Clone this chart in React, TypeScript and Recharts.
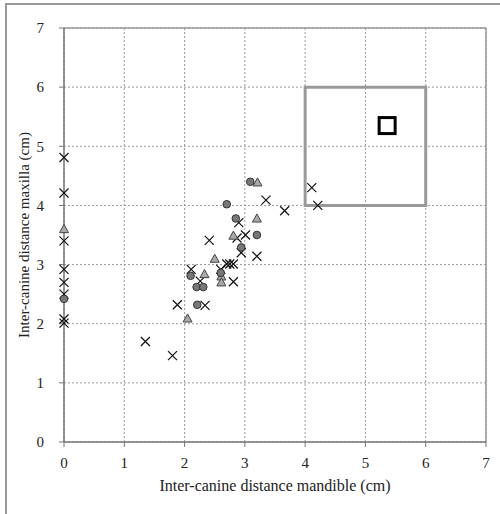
import React from "react";
import {
  ScatterChart,
  Scatter,
  XAxis,
  YAxis,
  CartesianGrid,
  ReferenceArea,
  ReferenceLine,
} from "recharts";

const ticks = [0, 1, 2, 3, 4, 5, 6, 7];

const circlePoints = [
  { x: 0, y: 2.42 },
  { x: 2.1, y: 2.81 },
  { x: 2.2, y: 2.62 },
  { x: 2.31, y: 2.62 },
  { x: 2.21, y: 2.32 },
  { x: 2.6, y: 2.86 },
  { x: 2.7, y: 4.02 },
  { x: 2.85, y: 3.78 },
  { x: 2.94, y: 3.29 },
  { x: 3.09, y: 4.4 },
  { x: 3.2, y: 3.5 },
];

const trianglePoints = [
  { x: 0, y: 3.6 },
  { x: 2.05, y: 2.09 },
  { x: 2.33, y: 2.84 },
  { x: 2.5, y: 3.1 },
  { x: 2.61, y: 2.8 },
  { x: 2.61, y: 2.7 },
  { x: 2.81, y: 3.49 },
  { x: 3.2, y: 3.78 },
  { x: 3.21, y: 4.39 },
];

const crossPoints = [
  { x: 0, y: 4.81 },
  { x: 0, y: 4.21 },
  { x: 0, y: 3.4 },
  { x: 0, y: 2.92 },
  { x: 0, y: 2.7 },
  { x: 0, y: 2.5 },
  { x: 0, y: 2.08 },
  { x: 0, y: 2.01 },
  { x: 1.35, y: 1.7 },
  { x: 1.8, y: 1.46 },
  { x: 1.88, y: 2.32 },
  { x: 2.11, y: 2.92 },
  { x: 2.26, y: 2.72 },
  { x: 2.34, y: 2.31 },
  { x: 2.41, y: 3.41 },
  { x: 2.6, y: 2.92 },
  { x: 2.7, y: 3.01 },
  { x: 2.75, y: 3.01 },
  { x: 2.81, y: 3.01 },
  { x: 2.81, y: 2.71 },
  { x: 2.87, y: 3.45 },
  { x: 2.9, y: 3.71 },
  { x: 2.94, y: 3.2 },
  { x: 3.01, y: 3.5 },
  { x: 3.2, y: 3.14 },
  { x: 3.35, y: 4.09 },
  { x: 3.66, y: 3.91 },
  { x: 4.11, y: 4.3 },
  { x: 4.21, y: 4.0 },
];

const squarePoints = [{ x: 5.36, y: 5.35 }];

const font = "'Liberation Serif', 'Times New Roman', serif";

const CircleShape = (props: any) => (
  <circle cx={props.cx} cy={props.cy} r={3.8} fill="#777" stroke="#333" strokeWidth={1} />
);

const TriangleShape = (props: any) => {
  const { cx, cy } = props;
  const s = 4.5;
  return (
    <polygon
      points={`${cx},${cy - s} ${cx - s},${cy + s * 0.8} ${cx + s},${cy + s * 0.8}`}
      fill="#aaa"
      stroke="#444"
      strokeWidth={1}
    />
  );
};

const CrossShape = (props: any) => {
  const { cx, cy } = props;
  const s = 4.5;
  return (
    <path
      d={`M${cx - s},${cy - s}L${cx + s},${cy + s}M${cx - s},${cy + s}L${cx + s},${cy - s}`}
      stroke="#111"
      strokeWidth={1.2}
      fill="none"
    />
  );
};

const SquareShape = (props: any) => {
  const { cx, cy } = props;
  const s = 8;
  return (
    <rect x={cx - s} y={cy - s} width={s * 2} height={s * 2} fill="#fff" stroke="#000" strokeWidth={3} />
  );
};

export default function App() {
  return (
    <div style={{ position: "absolute", left: 0, top: 0, width: 500, height: 514, background: "#fff" }}>
      <div
        style={{
          position: "absolute",
          left: 5,
          top: 3,
          width: 495,
          height: 511,
          borderTop: "2px solid #999",
          borderLeft: "2px solid #999",
        }}
      />
      <ScatterChart
        width={500}
        height={514}
        margin={{ top: 28, right: 14, bottom: 0, left: 0 }}
        style={{ position: "absolute", left: 0, top: 0 }}
      >
        <CartesianGrid stroke="#999" strokeDasharray="2 2" />
        <ReferenceLine y={7} stroke="#999" strokeWidth={1.5} />
        <ReferenceLine x={7} stroke="#999" strokeWidth={1.5} />
        <XAxis
          type="number"
          dataKey="x"
          domain={[0, 7]}
          ticks={ticks}
          height={72}
          axisLine={{ stroke: "#777", strokeWidth: 1.5 }}
          tickLine={{ stroke: "#777" }}
          tickSize={5}
          tickMargin={10}
          tick={{ fontSize: 15, fill: "#222", fontFamily: font }}
          label={{
            value: "Inter-canine distance mandible (cm)",
            position: "insideBottom",
            offset: 23,
            style: { fontSize: 16, fill: "#222", fontFamily: font },
          }}
        />
        <YAxis
          type="number"
          dataKey="y"
          domain={[0, 7]}
          ticks={ticks}
          width={64}
          axisLine={{ stroke: "#777", strokeWidth: 1.5 }}
          tickLine={{ stroke: "#777" }}
          tickSize={5}
          tickMargin={15}
          tick={{ fontSize: 15, fill: "#222", fontFamily: font }}
          label={{
            value: "Inter-canine distance maxilla (cm)",
            angle: -90,
            position: "insideLeft",
            offset: 24,
            style: { fontSize: 15, fill: "#222", fontFamily: font, textAnchor: "middle" },
          }}
        />
        <ReferenceArea x1={4} x2={6} y1={4} y2={6} fill="none" stroke="#999" strokeWidth={3} fillOpacity={0} />
        <Scatter data={crossPoints} shape={CrossShape} isAnimationActive={false} />
        <Scatter data={trianglePoints} shape={TriangleShape} isAnimationActive={false} />
        <Scatter data={circlePoints} shape={CircleShape} isAnimationActive={false} />
        <Scatter data={squarePoints} shape={SquareShape} isAnimationActive={false} />
      </ScatterChart>
    </div>
  );
}
